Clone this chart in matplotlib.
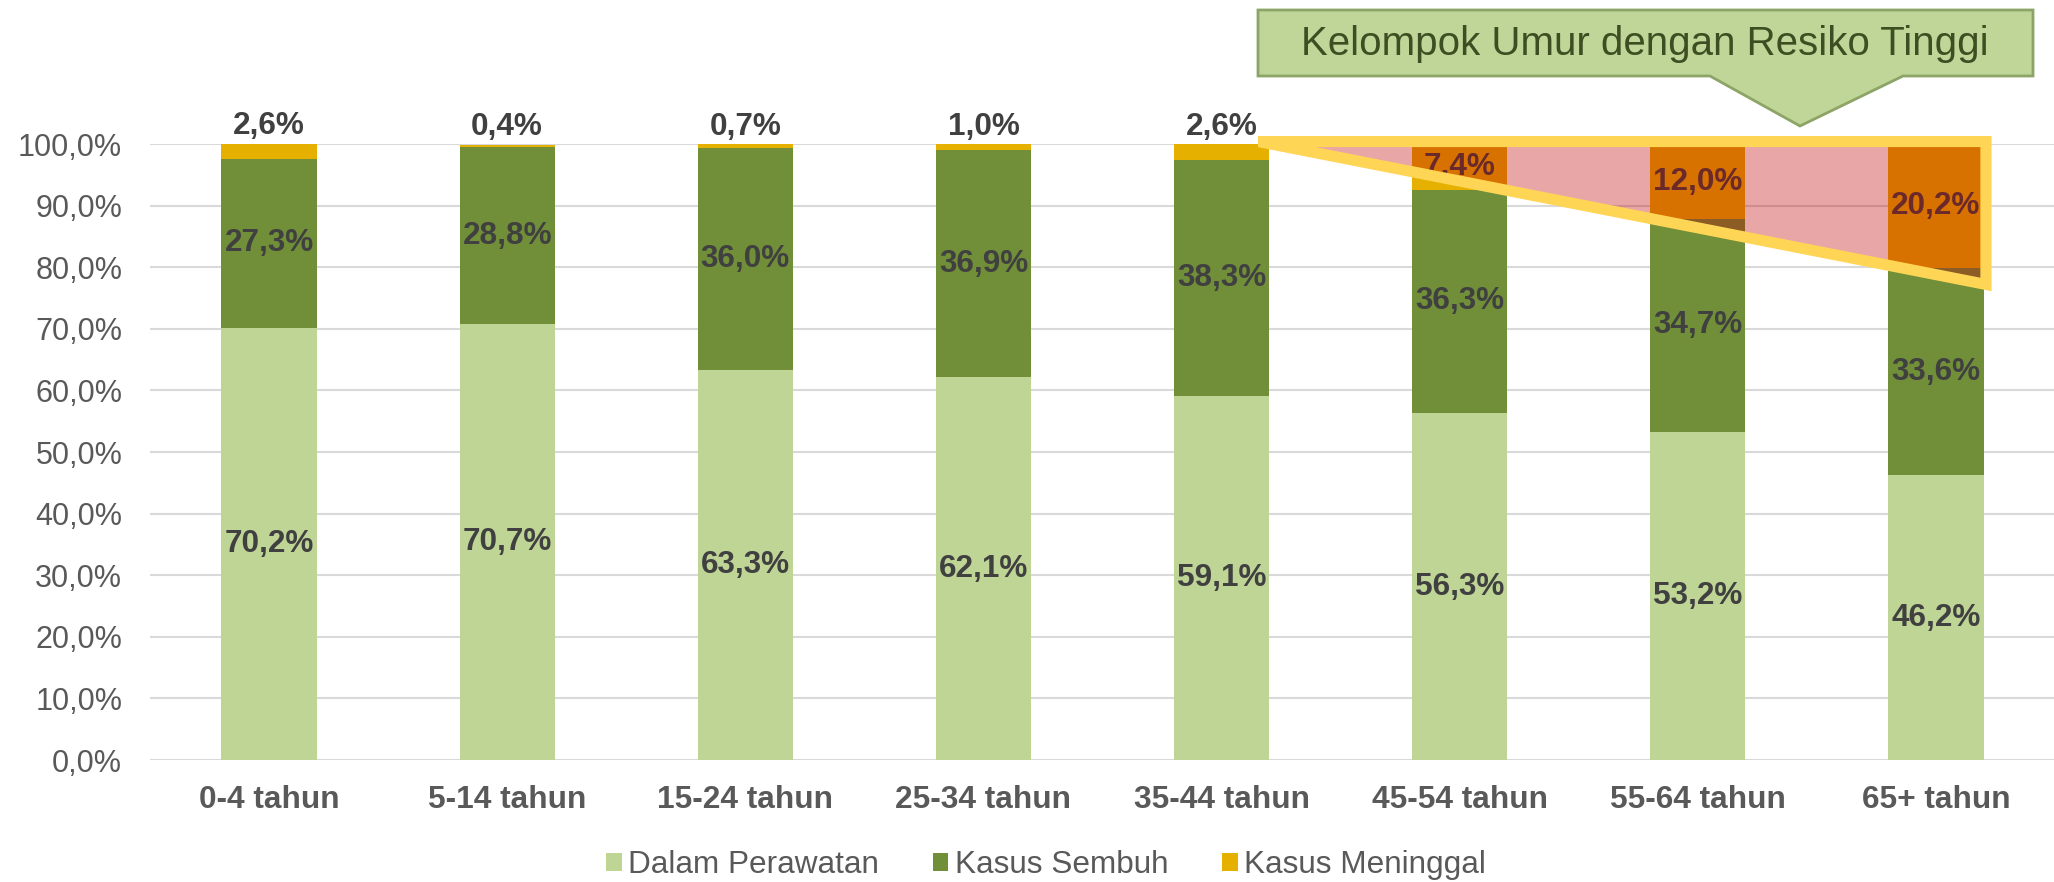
import numpy as np
import matplotlib
matplotlib.use("Agg")
import matplotlib.pyplot as plt
from matplotlib.patches import Polygon, Rectangle

plt.rcParams['font.family'] = ['Liberation Sans', 'DejaVu Sans']

# data
groups = ["0-4 tahun", "5-14 tahun", "15-24 tahun", "25-34 tahun",
          "35-44 tahun", "45-54 tahun", "55-64 tahun", "65+ tahun"]
dirawat = [70.2, 70.7, 63.3, 62.1, 59.1, 56.3, 53.2, 46.2]
sembuh = [27.3, 28.8, 36.0, 36.9, 38.3, 36.3, 34.7, 33.6]
meninggal = [2.6, 0.4, 0.7, 1.0, 2.6, 7.4, 12.0, 20.2]
series_names = ["Dalam Perawatan", "Kasus Sembuh", "Kasus Meninggal"]
yticks = np.arange(0, 101, 10)

c_light = "#BFD596"
c_dark = "#718F38"
c_gold = "#E5B000"
lbl_col = "#404040"
tick_col = "#595959"

W, H = 2054, 882
fig = plt.figure(figsize=(W / 100, H / 100), dpi=100)
ax = fig.add_axes([150 / W, 1 - 760 / H, (2055 - 150) / W, (760 - 144) / H])

x = np.arange(len(groups))
d = np.array(dirawat) / 100
s = np.array(sembuh) / 100
m = np.array(meninggal) / 100
bw = 0.4
ax.bar(x, d, bw, color=c_light, label=series_names[0], zorder=2)
ax.bar(x, s, bw, bottom=d, color=c_dark, label=series_names[1], zorder=2)
ax.bar(x, m, bw, bottom=d + s, color=c_gold, label=series_names[2], zorder=2)

fs = 22.7
for i in range(len(groups)):
    ax.text(x[i], d[i] / 2, f"{dirawat[i]:.1f}%".replace(".", ","), ha="center", va="center",
            fontsize=fs, fontweight="bold", color=lbl_col, zorder=3)
    ax.text(x[i], d[i] + s[i] / 2, f"{sembuh[i]:.1f}%".replace(".", ","), ha="center", va="center",
            fontsize=fs, fontweight="bold", color=lbl_col, zorder=3)
    txt = f"{meninggal[i]:.1f}%".replace(".", ",")
    if i < 5:
        ax.text(x[i], d[i] + s[i] + m[i] + 0.004, txt, ha="center", va="bottom",
                fontsize=fs, fontweight="bold", color=lbl_col, zorder=3)
    else:
        ax.text(x[i], d[i] + s[i] + m[i] / 2, txt, ha="center", va="center",
                fontsize=fs, fontweight="bold", color=lbl_col, zorder=3)

ax.set_xlim(-0.5, len(groups) - 0.5)
ax.set_ylim(0, 1.0)
ax.set_yticks(yticks / 100)
ax.set_yticklabels([f"{v:.1f}%".replace(".", ",") for v in yticks], fontsize=22.0, color=tick_col)
ax.set_xticks(x)
ax.set_xticklabels(groups, fontsize=22.8, fontweight="bold", color=tick_col)
ax.tick_params(axis="y", length=0, pad=20)
ax.tick_params(axis="x", length=0, pad=18)
for sp in ax.spines.values():
    sp.set_visible(False)
ax.yaxis.grid(True, color="#D9D9D9", lw=1.5, zorder=0)
ax.set_axisbelow(True)

# high risk triangle overlay: fill, then mitred outline cut off at the sharp tip
tri_pts = [(4.155, 1.004), (7.21, 1.004), (7.21, 0.772)]
ax.add_patch(Polygon(tri_pts, closed=True, facecolor=(190 / 255, 0, 0, 0.35),
                     edgecolor="none", zorder=5, clip_on=False))
outline = Polygon(tri_pts, closed=True, facecolor="none", edgecolor="#FFD556", lw=8,
                  joinstyle="miter", zorder=6)
ax.add_patch(outline)
clip = Rectangle((4.155, 0.5), 4, 0.7, transform=ax.transData)
outline.set_clip_path(clip)

# callout box
pts = [(1258, 10), (2033, 10), (2033, 76), (1903, 76), (1800, 126), (1710, 76), (1258, 76)]
callout = Polygon([(px / W, 1 - py / H) for px, py in pts], closed=True, transform=fig.transFigure,
                  facecolor="#C0D699", edgecolor="#8CA466", lw=2)
fig.patches.append(callout)
fig.text(1645 / W, 1 - 44 / H, "Kelompok Umur dengan Resiko Tinggi", ha="center", va="center",
         fontsize=29, color="#3D4F22")

fig.legend(loc="center", bbox_to_anchor=(1046 / W, 1 - 865 / H), ncol=3, frameon=False,
           fontsize=22.7, labelcolor=tick_col, handlelength=0.5, handleheight=0.5,
           handletextpad=0.2, columnspacing=1.7)

fig.savefig("out.png", dpi=100)
